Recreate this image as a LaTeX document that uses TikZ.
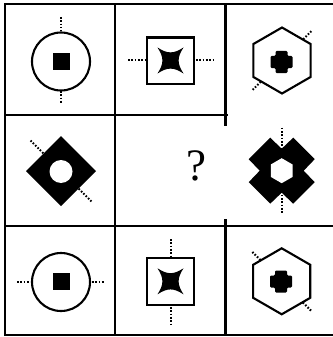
\documentclass[tikz,border=0pt]{standalone}
\usepackage{fontspec}
\usetikzlibrary{calc}
\newfontfamily\qfont{Liberation Serif}
\begin{document}
\begin{tikzpicture}[x=1pt,y=-1pt,
  gridline/.style={line width=2.1pt, line cap=rect},
  outl/.style={line width=2.1pt, line join=miter},
  dots/.style={line width=2pt, dash pattern=on 1.6pt off 1.7pt},
  starshape/.pic={\fill (-13,-13) .. controls (-3,-6.5) and (3,-6.5) .. (13,-13)
      .. controls (6.5,-3) and (6.5,3) .. (13,13)
      .. controls (3,6.5) and (-3,6.5) .. (-13,13)
      .. controls (-6.5,3) and (-6.5,-3) .. cycle;},
  plusshape/.pic={\fill[rounded corners=1.2pt] (-6,-11) -- (6,-11) -- (6,-6) -- (11,-6) -- (11,6) -- (6,6)
      -- (6,11) -- (-6,11) -- (-6,6) -- (-11,6) -- (-11,-6) -- (-6,-6) -- cycle;},
  hexshape/.pic={\draw[outl] (90:33) -- (30:33) -- (-30:33) -- (-90:33) -- (-150:33) -- (150:33) -- cycle;}
]
\useasboundingbox (0,0) rectangle (332,337);
% grid
\draw[gridline] (5,4) -- (332,4);
\draw[gridline] (5,115) -- (227,115);
\draw[gridline] (5,226) -- (332,226);
\draw[gridline] (5,335) -- (332,335);
\draw[gridline] (5,4) -- (5,335);
\draw[gridline] (115,4) -- (115,335);
\draw[gridline] (225.5,4) -- (225.5,125);
\draw[gridline] (225.5,220) -- (225.5,335);

% row 1 col 1
\draw[outl] (61,61.5) circle (29);
\fill (52.5,53) rectangle (69.5,70);
\draw[dots] (61,17) -- (61,31);
\draw[dots] (61,91) -- (61,104);

% row 1 col 2
\draw[outl] (147,37.5) rectangle (194,84);
\pic at (170.5,60.5) {starshape};
\draw[dots] (128,60.5) -- (145,60.5);
\draw[dots] (196,60.5) -- (213,60.5);

% row 1 col 3
\pic at (282,60.5) {hexshape};
\pic at (281.5,62) {plusshape};
\coordinate (h1) at (282,60.5);
\draw[dots] ($(h1)+(-45:30)$) -- ($(h1)+(-45:43)$);
\draw[dots] ($(h1)+(135:30)$) -- ($(h1)+(135:43)$);

% row 2 col 1
\fill (61,136) -- (96,171) -- (61,206) -- (26,171) -- cycle;
\fill[white] (61,171.5) circle (11.5);
\coordinate (d1) at (61,171);
\draw[dots] ($(d1)+(-135:25)$) -- ($(d1)+(-135:43)$);
\draw[dots] ($(d1)+(45:25)$) -- ($(d1)+(45:43)$);

% row 2 col 2
\node (q) at (196,166) {\fontsize{45}{45}\selectfont\qfont ?};

% row 2 col 3
\begin{scope}[shift={(281.7,170.7)}]
\fill (-11.5,-33) -- (0,-22) -- (11.5,-33) -- (33,-11.5) -- (22,0) -- (33,11.5)
  -- (11.5,33) -- (0,22) -- (-11.5,33) -- (-33,11.5) -- (-22,0) -- (-33,-11.5) -- cycle;
\fill[white] (90:12.5) -- (30:12.5) -- (-30:12.5) -- (-90:12.5) -- (-150:12.5) -- (150:12.5) -- cycle;
\draw[dots] (0,-43) -- (0,-23);
\draw[dots] (0,24) -- (0,43);
\end{scope}

% row 3 col 1
\draw[outl] (61,282) circle (29);
\fill (52.5,273) rectangle (69.5,290);
\draw[dots] (17,282) -- (30,282);
\draw[dots] (92,282) -- (105,282);

% row 3 col 2
\draw[outl] (147,257.7) rectangle (194,305);
\pic at (170.5,281.3) {starshape};
\draw[dots] (170.5,239) -- (170.5,256);
\draw[dots] (170.5,307) -- (170.5,324);

% row 3 col 3
\pic at (281.7,281.3) {hexshape};
\pic at (281,281.5) {plusshape};
\coordinate (h3) at (281.7,281.3);
\draw[dots] ($(h3)+(-135:30)$) -- ($(h3)+(-135:43)$);
\draw[dots] ($(h3)+(45:30)$) -- ($(h3)+(45:43)$);
\end{tikzpicture}
\end{document}
